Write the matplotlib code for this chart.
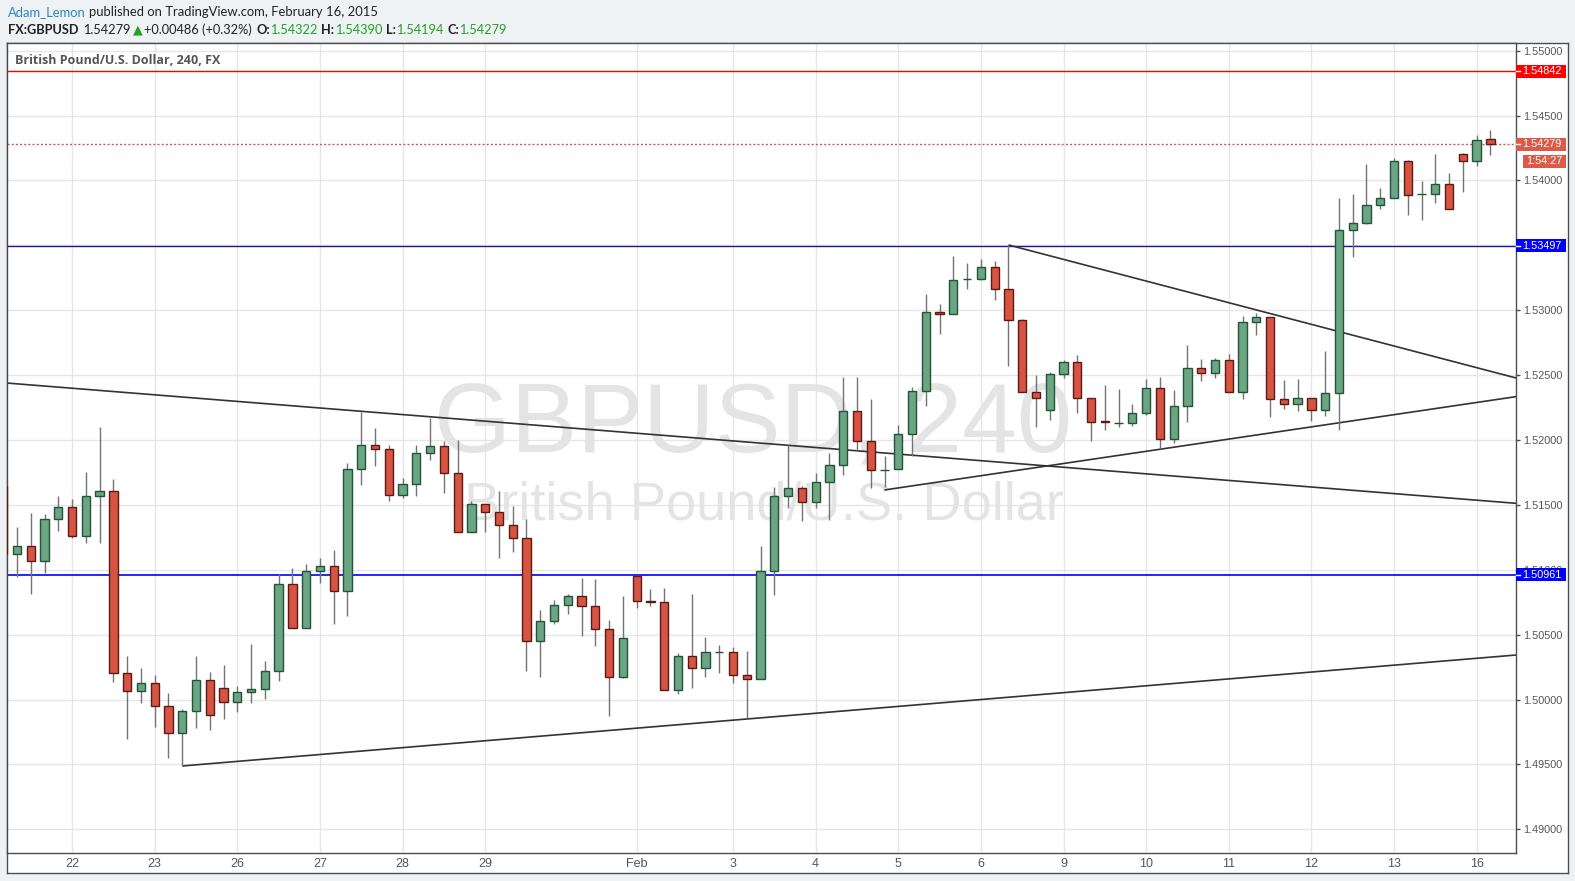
import numpy as np
import matplotlib
matplotlib.use("Agg")
import matplotlib.pyplot as plt
import matplotlib.transforms as mtransforms
from matplotlib.patches import Rectangle
from matplotlib.lines import Line2D

# ---------------- data (GBPUSD, 4h candles) ----------------
opens = [1.51646, 1.51122, 1.51184, 1.51068, 1.51392, 1.51484, 1.51261, 1.51569, 1.51607, 1.50205,
         1.50066, 1.50128, 1.49951, 1.49742, 1.49912, 1.50151, 1.50089, 1.49981, 1.50058, 1.50082,
         1.50220, 1.50891, 1.50552, 1.50991, 1.51029, 1.50837, 1.51777, 1.51962, 1.51931, 1.51577,
         1.51661, 1.51900, 1.51954, 1.51746, 1.51291, 1.51507, 1.51446, 1.51345, 1.51245, 1.50452,
         1.50606, 1.50729, 1.50798, 1.50721, 1.50544, 1.50174, 1.50952, 1.50756, 1.50752, 1.50074,
         1.50336, 1.50243, 1.50363, 1.50367, 1.50189, 1.50159, 1.50991, 1.51569, 1.51631, 1.51523,
         1.51677, 1.51808, 1.52224, 1.51993, 1.51765, 1.51777, 1.52047, 1.52378, 1.52987, 1.52971,
         1.53237, 1.53241, 1.53334, 1.53164, 1.52925, 1.52370, 1.52232, 1.52509, 1.52601, 1.52324,
         1.52143, 1.52128, 1.52132, 1.52208, 1.52401, 1.52008, 1.52262, 1.52555, 1.52517, 1.52617,
         1.52370, 1.52910, 1.52948, 1.52316, 1.52278, 1.52324, 1.52232, 1.52363, 1.53619, 1.53673,
         1.53811, 1.53865, 1.54150, 1.53892, 1.53896, 1.53973, 1.54204, 1.54150, 1.54322]
highs = [1.51692, 1.51330, 1.51438, 1.51430, 1.51569, 1.51546, 1.51754, 1.52101, 1.51700, 1.50336,
         1.50243, 1.50189, 1.50051, 1.49927, 1.50336, 1.50213, 1.50267, 1.50105, 1.50428, 1.50297,
         1.50968, 1.51014, 1.51045, 1.51091, 1.51153, 1.51823, 1.52216, 1.52093, 1.51962, 1.51708,
         1.51962, 1.52170, 1.51993, 1.52000, 1.51530, 1.51507, 1.51607, 1.51492, 1.51392, 1.50690,
         1.50767, 1.50814, 1.50937, 1.50929, 1.50613, 1.50798, 1.50960, 1.50852, 1.50860, 1.50359,
         1.50814, 1.50482, 1.50421, 1.50405, 1.50374, 1.51184, 1.51638, 1.51962, 1.51646, 1.51746,
         1.51900, 1.52486, 1.52486, 1.52316, 1.51877, 1.52116, 1.52409, 1.53125, 1.53048, 1.53418,
         1.53364, 1.53395, 1.53380, 1.53503, 1.52933, 1.52501, 1.52524, 1.52617, 1.52655, 1.52324,
         1.52424, 1.52393, 1.52278, 1.52470, 1.52486, 1.52386, 1.52732, 1.52625, 1.52632, 1.52663,
         1.52956, 1.52979, 1.52948, 1.52463, 1.52470, 1.52324, 1.52686, 1.53865, 1.53896, 1.54127,
         1.53942, 1.54174, 1.54158, 1.53996, 1.54204, 1.54058, 1.54212, 1.54351, 1.54390]
lows = [1.51076, 1.50945, 1.50814, 1.50976, 1.51299, 1.51245, 1.51207, 1.51207, 1.50136, 1.49696,
        1.49974, 1.49789, 1.49550, 1.49488, 1.49781, 1.49766, 1.49850, 1.49904, 1.49974, 1.50005,
        1.50143, 1.50552, 1.50552, 1.50898, 1.50583, 1.50644, 1.51654, 1.51800, 1.51530, 1.51553,
        1.51569, 1.51846, 1.51592, 1.51291, 1.51291, 1.51291, 1.51091, 1.51137, 1.50220, 1.50174,
        1.50583, 1.50660, 1.50490, 1.50413, 1.49874, 1.50166, 1.50706, 1.50721, 1.50074, 1.50043,
        1.50089, 1.50174, 1.50205, 1.50128, 1.49858, 1.50159, 1.50806, 1.51476, 1.51376, 1.51476,
        1.51384, 1.51731, 1.51916, 1.51631, 1.51638, 1.51777, 1.51877, 1.52262, 1.52817, 1.52971,
        1.53164, 1.53233, 1.53079, 1.52571, 1.52370, 1.52101, 1.52155, 1.52478, 1.52208, 1.51993,
        1.52077, 1.52101, 1.52108, 1.52193, 1.51939, 1.51977, 1.52139, 1.52455, 1.52478, 1.52370,
        1.52316, 1.52810, 1.52178, 1.52239, 1.52224, 1.52147, 1.52185, 1.52077, 1.53411, 1.53665,
        1.53780, 1.53865, 1.53734, 1.53696, 1.53827, 1.53780, 1.53911, 1.54112, 1.54194]
closes = [1.51122, 1.51184, 1.51068, 1.51392, 1.51484, 1.51261, 1.51569, 1.51607, 1.50205, 1.50066,
          1.50128, 1.49951, 1.49742, 1.49912, 1.50151, 1.49881, 1.49981, 1.50058, 1.50082, 1.50220,
          1.50891, 1.50552, 1.50991, 1.51029, 1.50837, 1.51777, 1.51962, 1.51931, 1.51577, 1.51661,
          1.51900, 1.51954, 1.51746, 1.51291, 1.51507, 1.51446, 1.51345, 1.51245, 1.50452, 1.50606,
          1.50729, 1.50798, 1.50721, 1.50544, 1.50174, 1.50475, 1.50760, 1.50748, 1.50074, 1.50336,
          1.50243, 1.50367, 1.50367, 1.50189, 1.50159, 1.50991, 1.51569, 1.51631, 1.51523, 1.51677,
          1.51808, 1.52224, 1.51993, 1.51769, 1.51769, 1.52047, 1.52378, 1.52987, 1.52971, 1.53233,
          1.53241, 1.53334, 1.53164, 1.52925, 1.52370, 1.52324, 1.52509, 1.52601, 1.52324, 1.52139,
          1.52135, 1.52132, 1.52208, 1.52401, 1.52008, 1.52262, 1.52555, 1.52517, 1.52617, 1.52370,
          1.52910, 1.52948, 1.52316, 1.52278, 1.52324, 1.52232, 1.52363, 1.53619, 1.53673, 1.53811,
          1.53865, 1.54150, 1.53888, 1.53896, 1.53973, 1.53780, 1.54150, 1.54312, 1.54279]

date_tick_idx = [5, 11, 17, 23, 29, 35, 46, 53, 59, 65, 71, 77, 83, 89, 95, 101, 107]
date_tick_labels = ["22", "23", "26", "27", "28", "29", "Feb", "3", "4", "5", "6", "9",
                    "10", "11", "12", "13", "16"]
price_ticks = [1.490, 1.495, 1.500, 1.505, 1.510, 1.515, 1.520, 1.525, 1.530, 1.535,
               1.540, 1.545, 1.550]

level_red = 1.54842
level_blue_hi = 1.53497
level_blue_lo = 1.50961
last_price = 1.54279
countdown = "1:54:27"

# trendlines: (x0, p0, x1, p1) in candle-index / price units
trend_desc_long = [0.252, 1.52439, 109.86, 1.51512]
trend_asc_long = [13.0, 1.49488, 109.86, 1.50343]
trend_tri_top = [73.0, 1.53503, 109.86, 1.52478]
trend_tri_bot = [64.0, 1.51615, 109.86, 1.52334]

# ---------------- figure ----------------
W, H = 1575, 881
fig = plt.figure(figsize=(W / 100, H / 100), dpi=100, facecolor="#eff2f5")
r = fig.canvas.get_renderer()

def fr(x0, y0, x1, y1):
    return [x0 / W, 1 - y1 / H, (x1 - x0) / W, (y1 - y0) / H]

PL, PT, PR, PB = 6.7, 43.3, 1516.0, 853.3
OR, OB = 1568.0, 873.0
FRAME = "#4d4d4d"
ARIAL = ["Liberation Sans", "DejaVu Sans"]

bg = fig.add_axes(fr(PL, PT, OR, OB))
bg.set_facecolor("white")
bg.set_xticks([]); bg.set_yticks([])
for s in bg.spines.values():
    s.set_color(FRAME); s.set_linewidth(1)

ax = fig.add_axes(fr(PL, PT, PR, PB))
ax.set_facecolor("white")
for s in ax.spines.values():
    s.set_color(FRAME); s.set_linewidth(1)

o = np.array(opens); h = np.array(highs); l = np.array(lows); c = np.array(closes)
x = np.arange(len(o))
up = c >= o
bot = np.minimum(o, c)
ht = np.abs(c - o)

ax.set_xlim(0.252, 109.86)
ax.set_ylim(1.48815, 1.55057)

# grid and ticks
ax.set_axisbelow(True)
ax.set_xticks(date_tick_idx)
ax.set_xticklabels(date_tick_labels)
ax.set_yticks(price_ticks)
ax.set_yticklabels([f"{p:.5f}" for p in price_ticks])
ax.grid(True, color="#e6e6e6", lw=1)
ax.yaxis.tick_right()
ax.tick_params(axis="y", direction="out", length=3, width=1, color=FRAME, pad=2.5,
               labelsize=7.8, labelcolor="#555555")
ax.tick_params(axis="x", length=0, pad=3.5, labelsize=9, labelcolor="#555555")
for lb in ax.get_yticklabels():
    lb.set_fontfamily(ARIAL)
for lb in ax.get_xticklabels():
    lb.set_fontfamily(ARIAL)

# watermark
wm1 = fig.text(753 / W, 1 - 452 / H, "GBPUSD, 240", ha="center", va="baseline",
               fontsize=70, color="#e4e4e4", family=ARIAL)
wm2 = fig.text(764 / W, 1 - 519 / H, "British Pound/U.S. Dollar", ha="center", va="baseline",
               fontsize=39, color="#e4e4e4", family=ARIAL)
for t, target in ((wm1, 638), (wm2, 600)):
    wdt = t.get_window_extent(renderer=r).width
    t.set_fontsize(t.get_fontsize() * target / wdt)
    t.remove()
    t.set_transform(fig.transFigure)
    ax.add_artist(t)
    t.set_zorder(0.6)
    t.set_clip_on(False)

# horizontal levels
ax.axhline(level_red, color="#ff0000", lw=1, zorder=2)
ax.axhline(level_blue_hi, color="#1a1aa6", lw=1, zorder=2)
ax.axhline(level_blue_lo, color="#0000ff", lw=1.2, zorder=2)
ax.axhline(last_price, color="#d9534f", lw=1, ls=(0, (1.5, 1.5)), zorder=2)

# trendlines
for tl in (trend_desc_long, trend_asc_long, trend_tri_top, trend_tri_bot):
    ax.plot([tl[0], tl[2]], [tl[1], tl[3]], color="#333333", lw=1.2, zorder=2.5,
            solid_capstyle="butt")

# candles
ax.vlines(x, l, h, color="#737373", lw=1, zorder=3)
ax.bar(x[up], ht[up], bottom=bot[up], width=0.6, color="#6ba583", edgecolor="#225437",
       lw=1, zorder=4)
ax.bar(x[~up], ht[~up], bottom=bot[~up], width=0.6, color="#d75442", edgecolor="#5b1a13",
       lw=1, zorder=4)

# price labels on the right axis
blend = mtransforms.blended_transform_factory(fig.transFigure, ax.transData)
px_per_price = (PB - PT) / (1.55057 - 1.48815)
half = 6.5 / px_per_price

def plabel(price, text, fc, x0=1516, x1=1566, dy=0):
    tr = blend + mtransforms.ScaledTranslation(0, -dy / 100, fig.dpi_scale_trans)
    rect = Rectangle((x0 / W, price - half), (x1 - x0) / W, 2 * half, transform=tr,
                     facecolor=fc, edgecolor="none", clip_on=False, zorder=6)
    ax.add_patch(rect)
    if x0 == 1516:
        ax.add_line(Line2D([1516 / W, 1519.5 / W], [price, price], transform=tr, color="white",
                           lw=1, clip_on=False, zorder=7))
    ax.text(1522.5 / W if x0 == 1516 else (x0 + x1) / 2 / W, price, text, transform=tr,
            ha="left" if x0 == 1516 else "center", va="center", color="white", fontsize=7.8,
            family=ARIAL, clip_on=False, zorder=7)

plabel(level_red, f"{level_red:.5f}", "#ff0000")
plabel(last_price, f"{last_price:.5f}", "#dc5a48")
plabel(last_price, countdown, "#dc5a48", x0=1523, x1=1566, dy=17)
plabel(level_blue_hi, f"{level_blue_hi:.5f}", "#0000ff")
plabel(level_blue_lo, f"{level_blue_lo:.5f}", "#0000ff")

# in-chart legend
leg = fig.text(15 / W, 1 - 64 / H, "British Pound/U.S. Dollar, 240, FX", color="#555555",
               fontsize=9, fontweight="bold", va="baseline", ha="left",
               family=["Open Sans", "DejaVu Sans"], zorder=8)
lw_ = leg.get_window_extent(renderer=r).width
leg.set_fontsize(9 * 205 / lw_)

# header
HFAM = ["Lato", "DejaVu Sans"]
DARK = "#222222"
GREEN = "#22a322"
BLUE = "#2b86c2"

def chain(pieces, x0, ybase, size, draw=True):
    xcur = x0
    arts = []
    for s, col, wt, gap in pieces:
        t = fig.text(xcur / W, 1 - ybase / H, s, color=col, fontweight=wt, fontsize=size,
                     family=HFAM, va="baseline", ha="left")
        bb = t.get_window_extent(renderer=r)
        xcur = bb.x1 + gap * size * 100 / 72
        arts.append(t)
    if not draw:
        for t in arts:
            t.remove()
    return xcur - x0

line1 = [("Adam_Lemon", BLUE, "normal", 0.28),
         ("published on TradingView.com, February 16, 2015", DARK, "normal", 0)]
line2 = [("FX:GBPUSD", DARK, "bold", 0.35), ("1.54279", DARK, "normal", 0.2),
         ("\u25B2", GREEN, "normal", 0.1), ("+0.00486 (+0.32%)", DARK, "normal", 0.35),
         ("O:", DARK, "bold", 0.02), ("1.54322", GREEN, "normal", 0.3),
         ("H:", DARK, "bold", 0.02), ("1.54390", GREEN, "normal", 0.3),
         ("L:", DARK, "bold", 0.02), ("1.54194", GREEN, "normal", 0.3),
         ("C:", DARK, "bold", 0.02), ("1.54279", GREEN, "normal", 0)]

w1 = chain(line1, 8, 16.5, 10, draw=False)
chain(line1, 8, 16.5, 10 * 372 / w1)
w2 = chain(line2, 8, 33.5, 10, draw=False)
chain(line2, 8, 33.5, 10 * 500 / w2)

fig.savefig("out.png", dpi=100, facecolor=fig.get_facecolor())
